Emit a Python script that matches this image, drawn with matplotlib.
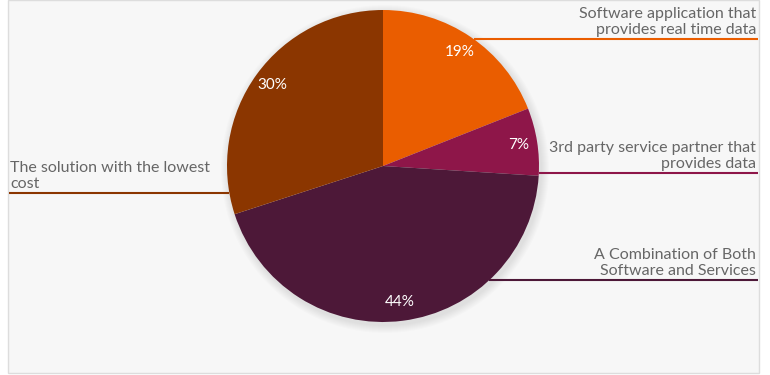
import numpy as np
import matplotlib
matplotlib.use("Agg")
import matplotlib.pyplot as plt
from matplotlib.patches import Rectangle, Circle

# ---- data ----
categories = ["Software application that\nprovides real time data",
              "3rd party service partner that\nprovides data",
              "A Combination of Both\nSoftware and Services",
              "The solution with the lowest\ncost"]
values = [19, 7, 44, 30]
colors = ["#EA5D00", "#8E1649", "#4D1838", "#8B3600"]

# ---- layout (pixel units, y downward converted) ----
W, H = 770, 375
cx, cy_px, R = 383, 166, 156
label_line_y_px = [39, 173, 280, 193]
label_side = ["right", "right", "right", "left"]
box = (8, 0, 759, 373)

fig = plt.figure(figsize=(W / 100, H / 100), dpi=100)
ax = fig.add_axes([0, 0, 1, 1])

def Y(py):
    return H - py

# background box
ax.add_patch(Rectangle((box[0], Y(box[3])), box[2] - box[0], box[3] - box[1],
                       facecolor="#F7F7F7", edgecolor="#DDDDDD", lw=1, zorder=0))

# soft shadow
for i in range(8):
    ax.add_patch(Circle((cx + 2, Y(cy_px) - 3), R + 8 - i, facecolor="#000000",
                        alpha=0.012, edgecolor="none", zorder=1))

wedges, texts, autotexts = ax.pie(
    values, colors=colors, startangle=90, counterclock=False,
    center=(cx, Y(cy_px)), radius=R, autopct="%d%%", pctdistance=0.88,
    wedgeprops=dict(linewidth=0), textprops=dict(color="white", fontsize=11,
                                                   family="Lato"),
    frame=True)
ax.set_xlim(0, W)
ax.set_ylim(0, H)
ax.set_aspect("equal")
ax.axis("off")
for w in wedges:
    w.set_zorder(2)
for t in autotexts:
    t.set_zorder(3)

text_color = "#666666"
for lab, ly, side, col in zip(categories, label_line_y_px, label_side, colors):
    dy = ly - cy_px
    dx = np.sqrt(max(R * R - dy * dy, 0))
    if side == "right":
        x0, x1 = cx + dx, box[2] - 1
        ax.plot([x0, x1], [Y(ly), Y(ly)], color=col, lw=1.5, zorder=2,
                solid_capstyle="butt")
        ax.text(x1 - 2, Y(ly) + 2, lab, ha="right", va="bottom", color=text_color,
                fontsize=11.5, family="Lato", linespacing=1.15, zorder=3)
    else:
        x0, x1 = box[0] + 1, cx - dx
        ax.plot([x0, x1], [Y(ly), Y(ly)], color=col, lw=1.5, zorder=2,
                solid_capstyle="butt")
        ax.text(x0 + 1, Y(ly) + 2, lab, ha="left", va="bottom", color=text_color,
                fontsize=11.5, family="Lato", linespacing=1.15, zorder=3)

fig.savefig("out.png", dpi=100, facecolor="white")
